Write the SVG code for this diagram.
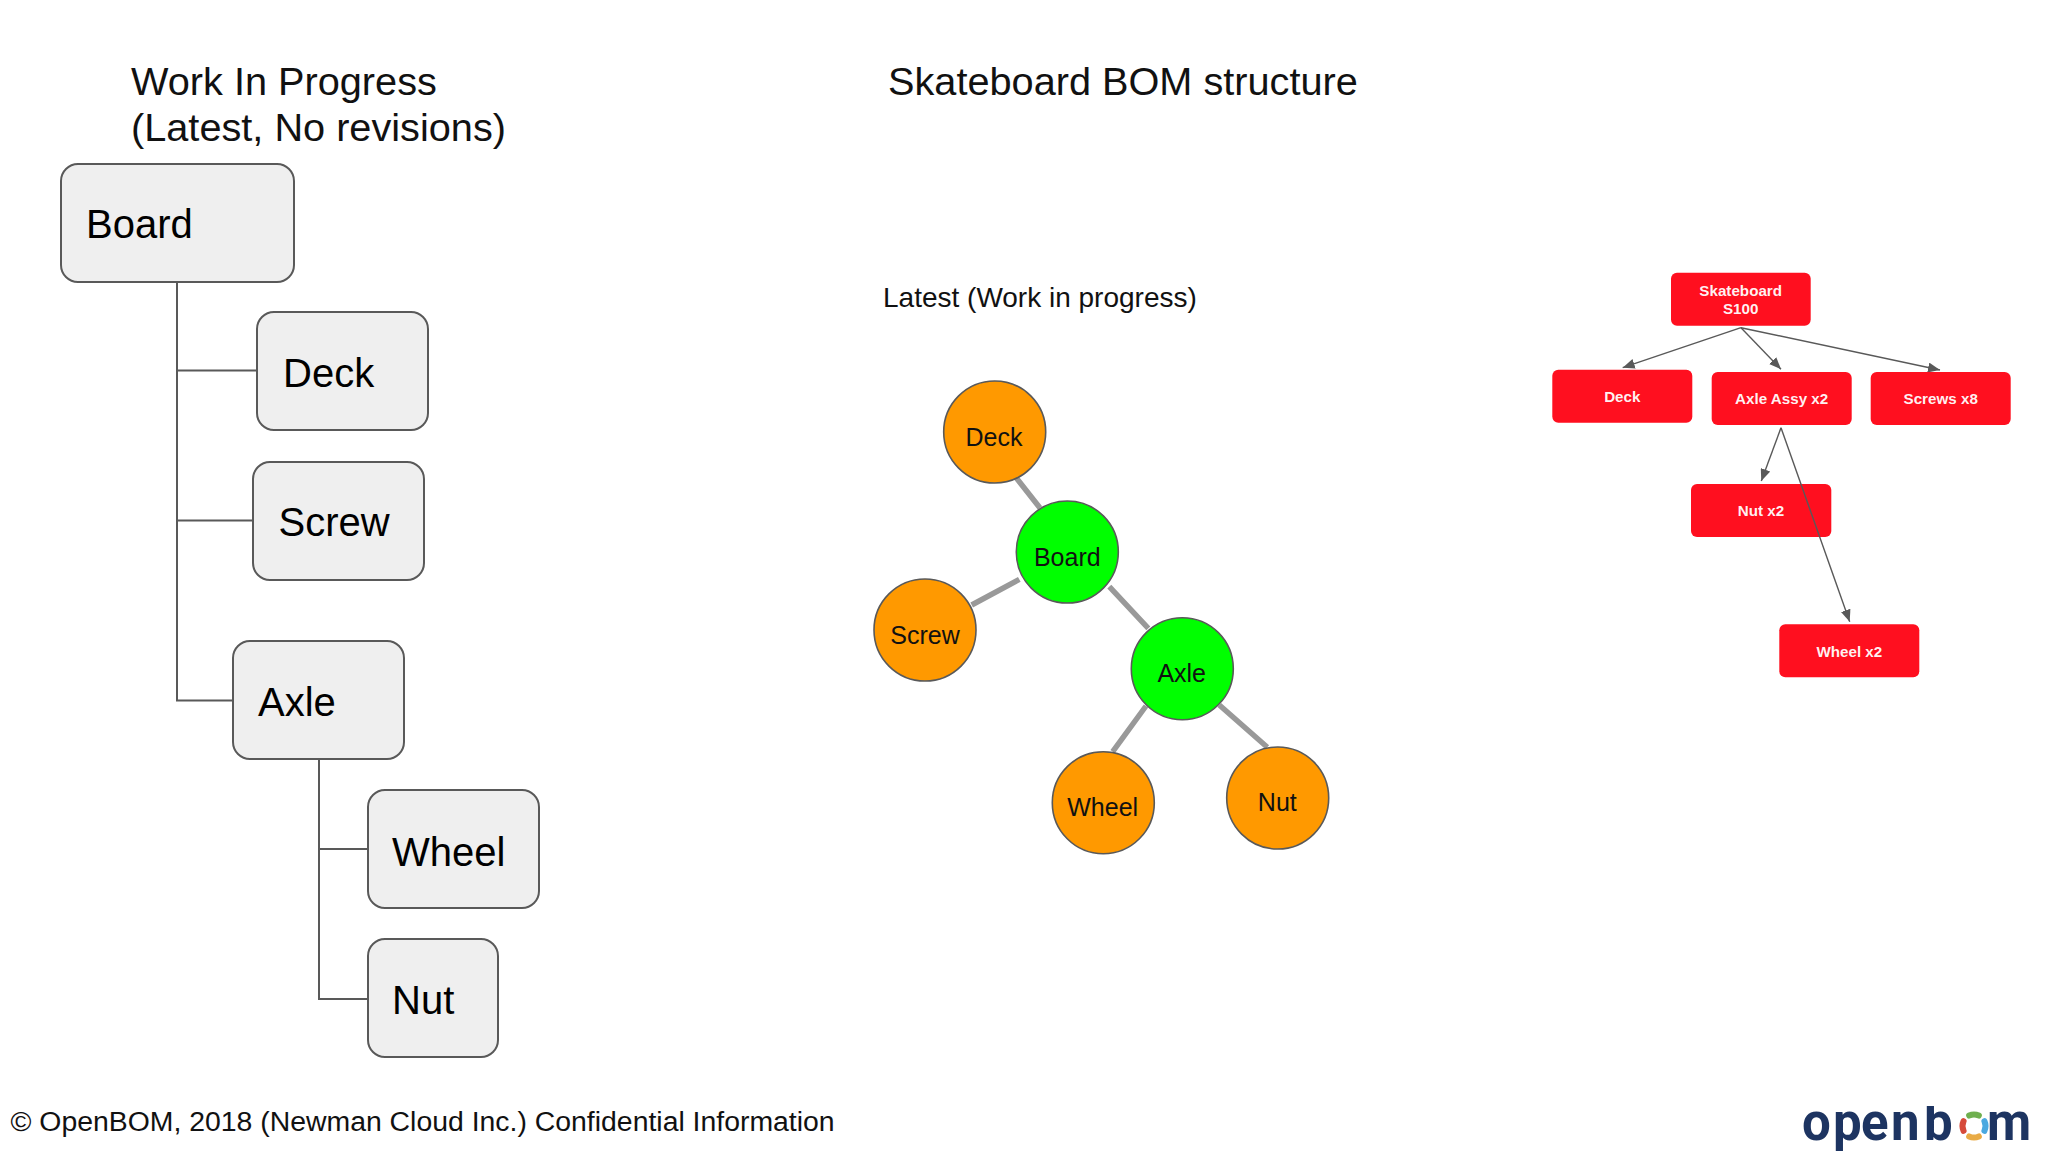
<svg xmlns="http://www.w3.org/2000/svg" width="2048" height="1152" viewBox="0 0 2048 1152">
<style>
text{font-family:"Liberation Sans",Arial,sans-serif;fill:#111}
.title{font-size:39.7px}
.box rect{fill:#efefef;stroke:#595959;stroke-width:2}
.box text{font-size:40px;fill:#000}
.tree{fill:none;stroke:#595959;stroke-width:2}
.edge{stroke:#999;stroke-width:5.5;fill:none}
.c{stroke:#595959;stroke-width:1.6}
.o{fill:#f90}
.g{fill:#0f0}
.ct{font-size:25px;text-anchor:middle;fill:#111}
.r rect{fill:#ff0f1f}
.r text{font-size:15.2px;font-weight:bold;fill:#fff;text-anchor:middle;fill-opacity:.95}
.arrow{stroke:#595959;stroke-width:1.4;fill:none;marker-end:url(#ah)}
</style>
<defs>
<marker id="ah" markerUnits="userSpaceOnUse" markerWidth="13" markerHeight="10" refX="12" refY="5" orient="auto"><path d="M0 0L12 5L0 10Z" fill="#595959"/></marker>
<clipPath id="logoclip"><rect x="1790" y="1106" width="250" height="45"/></clipPath>
</defs>
<rect width="2048" height="1152" fill="#fff"/>
<g id="titles">
<text class="title" x="131" y="94.500">Work In Progress</text>
<text class="title" x="131" y="141">(Latest, No revisions)</text>
<text class="title" x="888" y="94.500">Skateboard BOM structure</text>
<text x="883" y="307" font-size="28">Latest (Work in progress)</text>
</g>
<g id="connectors">
<g id="tree-connectors">
<path class="tree" d="M177 282V700.500H233M177 370.500H257M177 520.500H253M319 759V999H368M319 849H368"/>
</g>
<g id="graph-connectors">
<path class="edge" d="M1014 475L1040 508M971.700 605L1019.300 579.300M1109.300 586.700L1148.300 628.300M1146 706L1112.700 751.700M1219.300 705L1267.300 747.300"/>
</g>
<g id="bom-connectors">
<path class="arrow" d="M1741 327.700L1622.700 367.700"/>
<path class="arrow" d="M1741 327.700L1781 369.300"/>
<path class="arrow" d="M1741 327.700L1940 370"/>
<path class="arrow" d="M1781 427.700L1761.300 481"/>
</g>
</g>
<g id="wip-board" class="box"><rect x="61" y="164" width="233" height="118" rx="17"/><text x="86" y="238">Board</text></g>
<g id="wip-deck" class="box"><rect x="257" y="312" width="171" height="118" rx="17"/><text x="283" y="387">Deck</text></g>
<g id="wip-screw" class="box"><rect x="253" y="462" width="171" height="118" rx="17"/><text x="278.500" y="536">Screw</text></g>
<g id="wip-axle" class="box"><rect x="233" y="641" width="171" height="118" rx="17"/><text x="258" y="716">Axle</text></g>
<g id="wip-wheel" class="box"><rect x="368" y="790" width="171" height="118" rx="17"/><text x="392" y="865.500">Wheel</text></g>
<g id="wip-nut" class="box"><rect x="368" y="939" width="130" height="118" rx="17"/><text x="392" y="1013.500">Nut</text></g>
<g id="graph-deck"><circle class="c o" cx="994.700" cy="432" r="51"/><text class="ct" x="994" y="446">Deck</text></g>
<g id="graph-board"><circle class="c g" cx="1067.300" cy="552" r="51"/><text class="ct" x="1067.300" y="566">Board</text></g>
<g id="graph-screw"><circle class="c o" cx="925" cy="630" r="51"/><text class="ct" x="925" y="644">Screw</text></g>
<g id="graph-axle"><circle class="c g" cx="1182.300" cy="668.700" r="51"/><text class="ct" x="1181.700" y="682">Axle</text></g>
<g id="graph-wheel"><circle class="c o" cx="1103.300" cy="802.700" r="51"/><text class="ct" x="1102.700" y="816">Wheel</text></g>
<g id="graph-nut"><circle class="c o" cx="1277.700" cy="798" r="51"/><text class="ct" x="1277.300" y="811">Nut</text></g>
<g id="bom-skateboard" class="r"><rect x="1671" y="272.700" width="139.700" height="53" rx="6"/><text x="1740.700" y="295.700">Skateboard</text><text x="1740.700" y="314">S100</text></g>
<g id="bom-deck" class="r"><rect x="1552.300" y="369.700" width="140" height="53" rx="6"/><text x="1622.300" y="401.700">Deck</text></g>
<g id="bom-axle" class="r"><rect x="1711.700" y="372" width="140" height="53" rx="6"/><text x="1781.700" y="404">Axle Assy x2</text></g>
<g id="bom-screws" class="r"><rect x="1870.700" y="372" width="140" height="53" rx="6"/><text x="1940.700" y="404">Screws x8</text></g>
<g id="bom-nut" class="r"><rect x="1691" y="484" width="140.300" height="53" rx="6"/><text x="1761" y="515.700">Nut x2</text></g>
<g id="bom-wheel" class="r"><rect x="1779.300" y="624.300" width="140" height="53" rx="6"/><text x="1849.300" y="656.700">Wheel x2</text></g>
<path id="bom-axle-wheel" class="arrow" d="M1781 427.700L1849.700 621.700"/>
<text x="10.500" y="1131" font-size="28.400">© OpenBOM, 2018 (Newman Cloud Inc.) Confidential Information</text>
<g id="logo">
<text clip-path="url(#logoclip)" x="1802 1833 1861 1891 1924 1960 1987" y="1140" font-size="51" font-weight="bold" style="font-family:Roboto,sans-serif;fill:#1d3461">openb<tspan style="fill:none">o</tspan>m</text>
<g fill="none" stroke-width="6" stroke-linecap="round">
<path d="M1969.140 1115.580A11.500 11.500 0 0 1 1978.860 1115.580" stroke="#6fb04f"/>
<path d="M1984.420 1121.140A11.500 11.500 0 0 1 1984.420 1130.860" stroke="#4aa8e0"/>
<path d="M1978.860 1136.420A11.500 11.500 0 0 1 1969.140 1136.420" stroke="#e9ab45"/>
<path d="M1963.580 1130.860A11.500 11.500 0 0 1 1963.580 1121.140" stroke="#d64a3a"/>
</g>
</g>
</svg>
